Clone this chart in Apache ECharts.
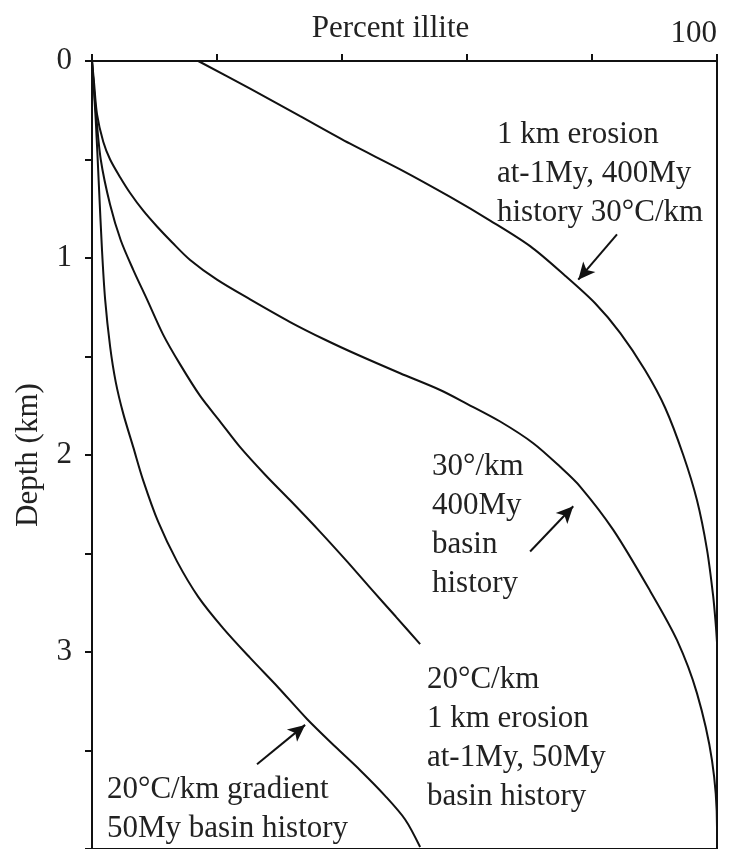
<!DOCTYPE html>
<html>
<head>
<meta charset="utf-8">
<script src="https://cdn.jsdelivr.net/npm/echarts@6/dist/echarts.min.js"></script>
<style>
  html, body { margin: 0; padding: 0; background: #fff; }
  #main { width: 731px; height: 849px; }
</style>
</head>
<body>
<div id="main"></div>
<script>
// [percent illite, depth km]
var erosion400My30C = [
  [17, 0], [25.3, 0.14], [33.3, 0.28], [41.3, 0.42], [49.3, 0.55], [57.3, 0.69],
  [63.7, 0.81], [70.1, 0.94], [75.7, 1.09], [80.5, 1.23], [84.5, 1.38],
  [88.5, 1.57], [91.7, 1.76], [94.6, 2.0], [96.8, 2.23], [98.4, 2.48],
  [99.4, 2.72], [99.8, 2.86], [100, 2.95]
];
var basin400My30C = [
  [0, 0], [0.3, 0.10], [0.8, 0.27], [1.8, 0.41], [2.9, 0.50], [4.5, 0.59],
  [6.1, 0.67], [8.2, 0.76], [10.4, 0.84], [12.8, 0.92], [15.7, 1.01],
  [20, 1.11], [25.3, 1.21], [31.7, 1.325], [37.3, 1.415], [42.4, 1.49],
  [49.3, 1.585], [55.7, 1.67], [60, 1.74], [65.3, 1.83], [70.6, 1.94],
  [74.9, 2.06], [78.1, 2.16], [83.4, 2.38], [89.3, 2.69], [93.6, 2.94],
  [96.8, 3.21], [99.2, 3.55], [100, 3.89], [100, 4]
];
var erosion50My20C = [
  [0, 0], [0.6, 0.25], [1.4, 0.50], [2.9, 0.73], [4.6, 0.91], [6.6, 1.06],
  [8.8, 1.21], [11.4, 1.39], [14.1, 1.54], [17.3, 1.70], [20.5, 1.83],
  [23.7, 1.96], [27.7, 2.10], [31.7, 2.23], [36.5, 2.39], [40.8, 2.54],
  [44.8, 2.685], [48.6, 2.82], [52.5, 2.96]
];
var basin50My20C = [
  [0, 0], [0.6, 0.30], [1.1, 0.63], [1.6, 0.96], [2.1, 1.21], [2.9, 1.45],
  [3.8, 1.63], [5.0, 1.79], [6.6, 1.96], [8.2, 2.13], [10.6, 2.34],
  [13.6, 2.54], [17.0, 2.72], [21.0, 2.88], [25.3, 3.03], [29.8, 3.18],
  [34.4, 3.34], [38.9, 3.48], [42.9, 3.60], [46.9, 3.73], [50.1, 3.85],
  [52.5, 3.99]
];

// arrows: [tail, head] in data units
var arrows = [
  [[84.0, 0.88], [77.8, 1.11]],
  [[70.1, 2.49], [77.0, 2.26]],
  [[26.4, 3.57], [34.1, 3.37]]
];

var notes = [
  { x: 497, y: 115, text: '1 km erosion\nat-1My, 400My\nhistory 30°C/km' },
  { x: 432, y: 447, text: '30°/km\n400My\nbasin\nhistory' },
  { x: 427, y: 660, text: '20°C/km\n1 km erosion\nat-1My, 50My\nbasin history' },
  { x: 107, y: 770, text: '20°C/km gradient\n50My basin history' }
];

var FONT = '"Liberation Serif", "DejaVu Serif", serif';
var chart = echarts.init(document.getElementById('main'));

function curve(data) {
  return {
    type: 'line',
    data: data,
    smooth: 0.3,
    symbol: 'none',
    lineStyle: { color: '#111', width: 2 },
    clip: true
  };
}

var arrowSeries = {
  type: 'line',
  data: [],
  markLine: {
    silent: true,
    symbol: ['none', 'arrow'],
    symbolSize: [12, 17],
    label: { show: false },
    lineStyle: { color: '#111', width: 2, type: 'solid' },
    data: arrows.map(function (a) {
      return [{ coord: a[0] }, { coord: a[1] }];
    })
  }
};

chart.setOption({
  backgroundColor: '#fff',
  animation: false,
  grid: {
    left: 92, right: 14, top: 61, bottom: 0,
    outerBoundsMode: 'none',
    containLabel: false,
    show: true, borderColor: '#111', borderWidth: 2, backgroundColor: 'transparent'
  },
  xAxis: {
    type: 'value',
    position: 'top',
    min: 0, max: 100, interval: 20,
    name: 'Percent illite',
    nameLocation: 'middle',
    nameGap: 17,
    nameMoveOverlap: false,
    nameTextStyle: { fontFamily: FONT, fontSize: 31, color: '#222', padding: [0, 28, 0, 0] },
    axisLine: { show: true, lineStyle: { color: '#111', width: 2 } },
    axisTick: { show: true, length: 7, lineStyle: { color: '#111', width: 2 } },
    axisLabel: {
      fontFamily: FONT, fontSize: 31, color: '#222', margin: 12, align: 'right',
      formatter: function (v) { return v === 100 ? '100' : ''; }
    },
    splitLine: { show: false }
  },
  yAxis: {
    type: 'value',
    inverse: true,
    min: 0, max: 4, interval: 0.5,
    name: 'Depth (km)',
    nameLocation: 'middle',
    nameGap: 48,
    nameMoveOverlap: false,
    nameTextStyle: { fontFamily: FONT, fontSize: 31, color: '#222' },
    axisLine: { show: true, lineStyle: { color: '#111', width: 2 } },
    axisTick: { show: true, length: 7, lineStyle: { color: '#111', width: 2 } },
    axisLabel: {
      fontFamily: FONT, fontSize: 31, color: '#222', margin: 20,
      formatter: function (v) { return (v % 1 === 0 && v < 4) ? String(v) : ''; }
    },
    splitLine: { show: false }
  },
  series: [
    curve(erosion400My30C),
    curve(basin400My30C),
    curve(erosion50My20C),
    curve(basin50My20C),
    arrowSeries
  ],
  graphic: notes.map(function (n) {
    return {
      type: 'text',
      left: n.x, top: n.y,
      style: { text: n.text, font: '31px ' + FONT, fill: '#222', lineHeight: 39 }
    };
  })
});
</script>
</body>
</html>
